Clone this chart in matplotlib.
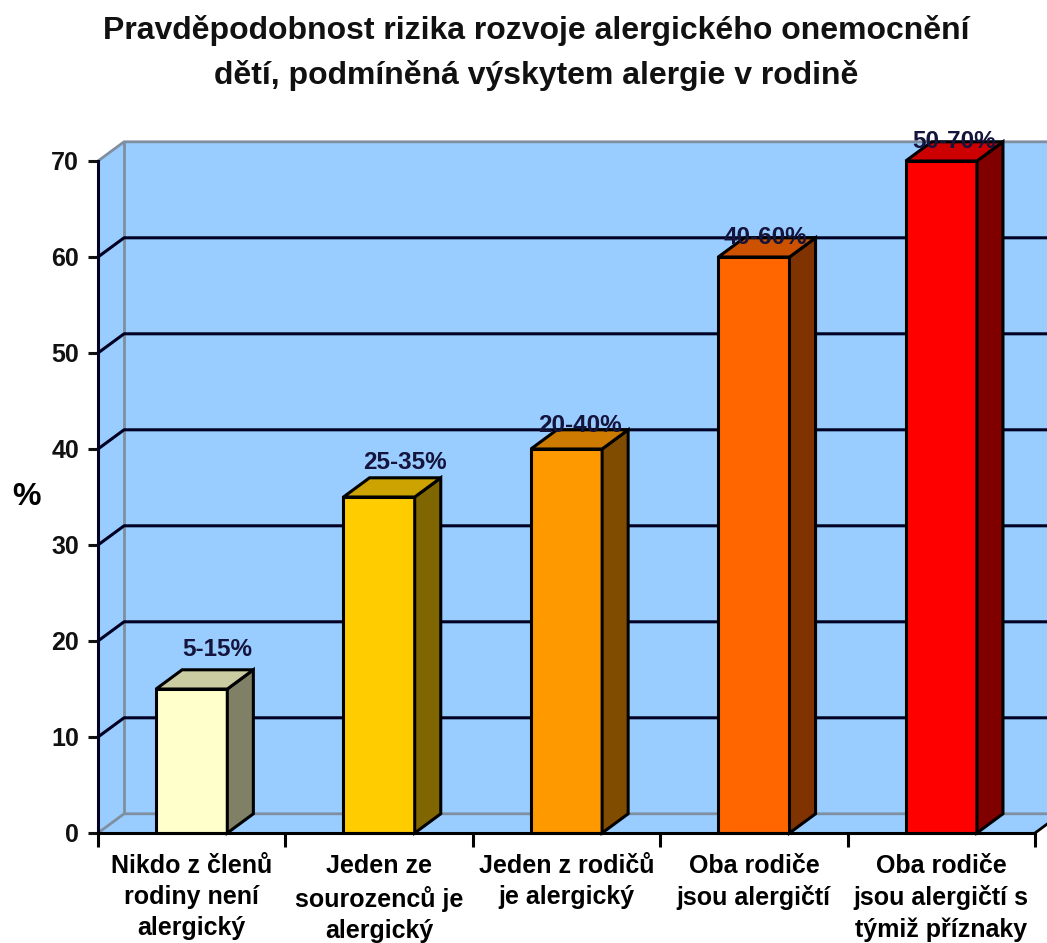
import numpy as np
import matplotlib.pyplot as plt
from matplotlib.patches import Polygon
import matplotlib.colors as mc

plt.rcParams['font.family'] = ['Liberation Sans', 'DejaVu Sans']
plt.rcParams['font.weight'] = 'bold'

# data
categories = ['Nikdo z členů\nrodiny není\nalergický',
              'Jeden ze\nsourozenců je\nalergický',
              'Jeden z rodičů\nje alergický',
              'Oba rodiče\njsou alergičtí',
              'Oba rodiče\njsou alergičtí s\ntýmiž příznaky']
values = [15, 35, 40, 60, 70]
value_labels = ['5-15%', '25-35%', '20-40%', '40-60%', '50-70%']
colors = ['#FFFFCC', '#FFCC00', '#FF9900', '#FF6600', '#FF0000']
yticks = [0, 10, 20, 30, 40, 50, 60, 70]

# layout / style
dx, dy = 0.139, 2.0      # pseudo 3d depth
bar_w = 0.38
lab_dx = [0.139, 0.139, 0.072, 0.06, 0.068]
lab_dy = [4.1, 3.6, 2.5, 2.0, 2.0]
wall_c = '#99CCFF'
edge_c = '#7F8FA0'
grid_c = '#000022'
n = len(values)
ymax = yticks[-1]


def shade(c, f):
    r, g, b = mc.to_rgb(c)
    return (r * f, g * f, b * f)


fig = plt.figure(figsize=(10.47, 9.43), dpi=100)
ax = fig.add_axes([98 / 1047, 110 / 943, 937 / 1047, 672 / 943])
ax.set_xlim(0, n)
ax.set_ylim(0, ymax)
ax.patch.set_visible(False)

# walls and floor
ax.add_patch(Polygon([(dx, dy), (n + dx, dy), (n + dx, ymax + dy), (dx, ymax + dy)],
                     fc=wall_c, ec='none', clip_on=False, zorder=0))
ax.add_patch(Polygon([(0, 0), (dx, dy), (dx, ymax + dy), (0, ymax)],
                     fc=wall_c, ec='none', clip_on=False, zorder=0))
ax.add_patch(Polygon([(0, 0), (n, 0), (n + dx, dy), (dx, dy)],
                     fc=wall_c, ec='none', clip_on=False, zorder=0))

# wall edges
kw = dict(color=edge_c, lw=2, clip_on=False, zorder=1, solid_capstyle='butt')
ax.plot([dx, dx], [dy, ymax + dy], **kw)
ax.plot([0, dx, n + dx], [ymax, ymax + dy, ymax + dy], **kw)
ax.plot([0, dx, n + dx], [0, dy, dy], **kw)
ax.plot([n, n + dx], [0, dy], color='black', lw=2, clip_on=False, zorder=1)

# gridlines
for v in yticks[1:-1]:
    ax.plot([0, dx, n + dx], [v, v + dy, v + dy], color=grid_c, lw=2.2,
            clip_on=False, zorder=1)

# bars
for i, (v, c) in enumerate(zip(values, colors)):
    x0 = i + 0.5 - bar_w / 2
    x1 = i + 0.5 + bar_w / 2
    pk = dict(ec='black', lw=2.2, clip_on=False, zorder=3, joinstyle='miter')
    ax.add_patch(Polygon([(x0, 0), (x1, 0), (x1, v), (x0, v)], fc=c, **pk))
    ax.add_patch(Polygon([(x1, 0), (x1 + dx, dy), (x1 + dx, v + dy), (x1, v)],
                         fc=shade(c, 0.5), **pk))
    ax.add_patch(Polygon([(x0, v), (x1, v), (x1 + dx, v + dy), (x0 + dx, v + dy)],
                         fc=shade(c, 0.8), **pk))
    ax.text(i + 0.5 + lab_dx[i], v + lab_dy[i], value_labels[i], ha='center',
            va='center', fontsize=17.5, color='#14143C', zorder=5)

# axes
for s in ['top', 'right']:
    ax.spines[s].set_visible(False)
ax.spines['left'].set_color(grid_c)
ax.spines['left'].set_linewidth(2.2)
ax.spines['bottom'].set_color('black')
ax.spines['bottom'].set_linewidth(2.2)
ax.spines['left'].set_zorder(4)
ax.spines['bottom'].set_zorder(4)

ax.set_yticks(yticks)
ax.tick_params(axis='y', length=7.5, width=2.2, pad=6, labelsize=18, colors='#111111')
ax.set_xticks(range(n + 1))
ax.set_xticklabels([])
ax.tick_params(axis='x', which='major', length=10, width=2.2, color='black')
ax.set_xticks(np.arange(n) + 0.5, minor=True)
ax.set_xticklabels(categories, minor=True, fontsize=18, linespacing=1.38)
ax.tick_params(axis='x', which='minor', length=0, pad=15)

ax.set_ylabel('%', rotation=0, fontsize=23, fontweight='bold', va='center', ha='center')
ax.yaxis.set_label_coords(-0.0758, 0.5)

fig.text(0.512, 1 - 53 / 943,
         'Pravděpodobnost rizika rozvoje alergického onemocnění\n'
         'dětí, podmíněná výskytem alergie v rodině',
         ha='center', va='center', fontsize=23, linespacing=1.55, color='#111111')

fig.savefig('out.png', dpi=100)
